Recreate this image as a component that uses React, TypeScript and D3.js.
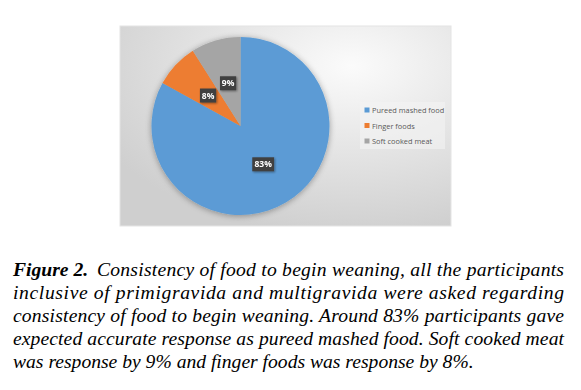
import React from "react";
import * as d3 from "d3";

const categories = ["Pureed mashed food", "Finger foods", "Soft cooked meat"];
const values = [83, 8, 9];
const colors = ["#5b9bd5", "#ed7d31", "#a5a5a5"];
const captionLines = [
  "Consistency of food to begin weaning, all the participants",
  "inclusive of primigravida and multigravida were asked regarding",
  "consistency of food to begin weaning. Around 83% participants gave",
  "expected accurate response as pureed mashed food. Soft cooked meat",
  "was response by 9% and finger foods was response by 8%.",
];

const SERIF = "'Liberation Serif'";
const SANS = "'Open Sans'";

export default function App() {
  const W = 581, H = 390;
  const cx = 240.5, cy = 126, R = 89;
  const pie = d3.pie<number>().sort(null).value((d) => d);
  const arcs = pie(values);
  const arc = d3.arc<d3.PieArcDatum<number>>().innerRadius(0).outerRadius(R);
  const labelArc = d3.arc<d3.PieArcDatum<number>>().innerRadius(R / 2).outerRadius(R / 2);
  const legendY = d3.scalePoint<string>().domain(categories).range([110, 141]);

  const capX = 13, capRight = 564;
  const capY = d3.scaleLinear().domain([0, 4]).range([276, 368]);
  const capStyle: React.CSSProperties = { fontFamily: SERIF, fontStyle: "italic", fontSize: "19.6px" };

  return (
    <svg width={W} height={H} style={{ position: "absolute", left: 0, top: 0 }}>
      <defs>
        <radialGradient id="bg" cx="0.7" cy="0.2" r="0.85">
          <stop offset="0" stopColor="#fbfbfb" />
          <stop offset="0.4" stopColor="#e9e9e9" />
          <stop offset="1" stopColor="#cfcfcf" />
        </radialGradient>
        <filter id="sh" x="-20%" y="-20%" width="140%" height="140%">
          <feGaussianBlur in="SourceAlpha" stdDeviation="3" />
          <feOffset dx="0" dy="1" />
          <feComponentTransfer>
            <feFuncA type="linear" slope="0.35" />
          </feComponentTransfer>
          <feMerge>
            <feMergeNode />
            <feMergeNode in="SourceGraphic" />
          </feMerge>
        </filter>
        <filter id="lsh" x="-30%" y="-30%" width="160%" height="160%">
          <feGaussianBlur in="SourceAlpha" stdDeviation="1" />
          <feOffset dx="0.5" dy="0.5" />
          <feComponentTransfer>
            <feFuncA type="linear" slope="0.4" />
          </feComponentTransfer>
          <feMerge>
            <feMergeNode />
            <feMergeNode in="SourceGraphic" />
          </feMerge>
        </filter>
      </defs>
      <rect x={0} y={0} width={W} height={H} fill="#ffffff" />
      <rect x={120} y={26} width={331} height={200} fill="url(#bg)" stroke="#e4e4e4" strokeWidth={1} />
      <g transform={`translate(${cx},${cy})`} filter="url(#sh)">
        {arcs.map((a, i) => (
          <path key={i} d={arc(a) || ""} fill={colors[i]} />
        ))}
      </g>
      <g transform={`translate(${cx},${cy})`}>
        {arcs.map((a, i) => {
          const [lx, ly] = labelArc.centroid(a);
          const txt = `${values[i]}%`;
          const w = txt.length * 5.6 + 5;
          return (
            <g key={i} transform={`translate(${lx},${ly})`} filter="url(#lsh)">
              <rect x={-w / 2} y={-7} width={w} height={14} fill="#404040" />
              <text x={0} y={3} textAnchor="middle" fontFamily={SANS} fontWeight="bold" fontSize={8.5} fill="#ffffff">
                {txt}
              </text>
            </g>
          );
        })}
      </g>
      <rect x={360} y={102} width={85} height={47} fill="#f4f4f4" opacity={0.6} />
      {categories.map((c, i) => {
        const y = legendY(c) as number;
        return (
          <g key={c}>
            <rect x={364.5} y={y - 2.5} width={5} height={5} fill={colors[i]} />
            <text x={372} y={y + 3} fontFamily={SANS} fontSize={7.4} fill="#595959">
              {c}
            </text>
          </g>
        );
      })}
      <text x={capX} y={capY(0)} style={{ ...capStyle, fontWeight: "bold" }} fill="#000">Figure 2.</text>
      {captionLines.map((line, i) => {
        const last = i === captionLines.length - 1;
        const x0 = i === 0 ? 97 : capX;
        return (
          <text
            key={i}
            x={x0}
            y={capY(i)}
            style={capStyle}
            fill="#000"
            {...(last ? {} : { textLength: capRight - x0, lengthAdjust: "spacing" })}
          >
            {line}
          </text>
        );
      })}
    </svg>
  );
}
